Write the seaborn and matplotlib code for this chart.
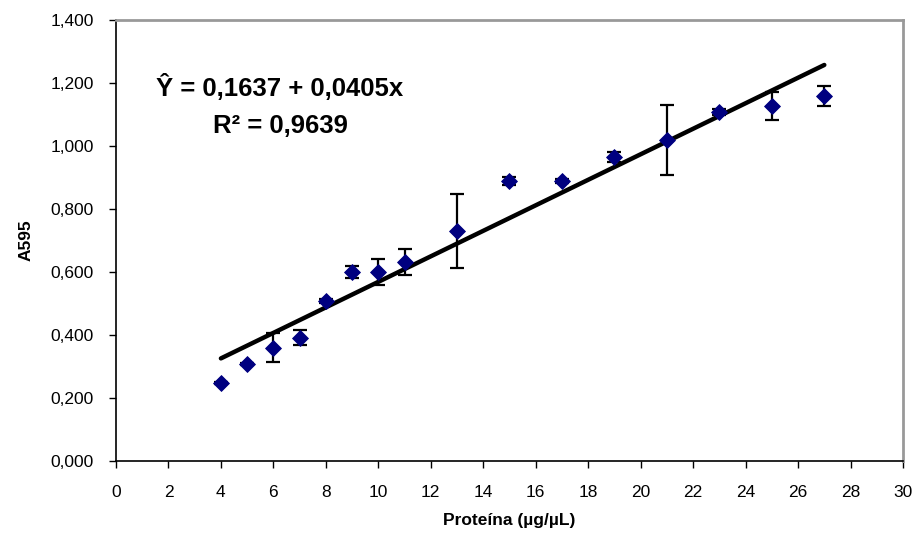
import numpy as np
import pandas as pd
import matplotlib
matplotlib.use("Agg")
import matplotlib.pyplot as plt
import seaborn as sns

# concentraciones (µg/µL) y absorbancias medias
proteina = [4, 5, 6, 7, 8, 9, 10, 11, 13, 15, 17, 19, 21, 23, 25, 27]
a595 = [0.248, 0.308, 0.359, 0.392, 0.509, 0.600, 0.600, 0.632, 0.730,
        0.889, 0.888, 0.964, 1.019, 1.108, 1.127, 1.159]
desv = [0.004, 0.004, 0.046, 0.024, 0.006, 0.019, 0.040, 0.040, 0.117,
        0.013, 0.006, 0.016, 0.111, 0.010, 0.043, 0.032]

intercepto = 0.1637
pendiente = 0.0405
r2 = 0.9639

df = pd.DataFrame({"x": proteina, "y": a595, "sd": desv})
df["fit"] = intercepto + pendiente * df["x"]

sns.set_style("white")
plt.rcParams["font.family"] = ["Liberation Sans", "DejaVu Sans"]
plt.rcParams["text.color"] = "black"
plt.rcParams["axes.labelcolor"] = "black"

fig = plt.figure(figsize=(9.19, 5.4), dpi=100)
ax = fig.add_axes([0.1262, 0.1463, 0.8564, 0.8167])

ax.errorbar(df["x"], df["y"], yerr=df["sd"], fmt="none", ecolor="black",
            elinewidth=1.6, capsize=5, capthick=1.6, zorder=2)
sns.lineplot(data=df, x="x", y="fit", color="black", linewidth=3.2, ax=ax, zorder=3)
sns.scatterplot(data=df, x="x", y="y", marker="D", s=65, color="#000080",
                edgecolor="#000080", ax=ax, zorder=4)

ax.set_xlim(0, 30)
ax.set_ylim(0, 1.4)
ax.set_xticks(np.arange(0, 31, 2))
ax.set_yticks(np.arange(0, 1.41, 0.2))
ax.set_yticklabels([f"{v:.3f}".replace(".", ",") for v in np.arange(0, 1.41, 0.2)])
ax.tick_params(axis="both", direction="out", length=5, width=1, colors="black",
               labelsize=12.5, left=True, bottom=True)
ax.tick_params(axis="x", pad=12)
ax.tick_params(axis="y", pad=11)

for s in ["left", "bottom"]:
    ax.spines[s].set_color("black")
    ax.spines[s].set_linewidth(1.2)
for s in ["top", "right"]:
    ax.spines[s].set_color("#999999")
    ax.spines[s].set_linewidth(2)

ax.set_xlabel("Proteína (µg/µL)", fontsize=12.5, fontweight="bold", labelpad=10)
ax.set_ylabel("A595", fontsize=12.5, fontweight="bold", labelpad=12)

eq = f"Ŷ = {intercepto:.4f} + {pendiente:.4f}x".replace(".", ",")
ax.text(6.25, 1.185, eq, fontsize=18.5, fontweight="bold", ha="center", va="center")
ax.text(6.25, 1.062, f"R² = {r2:.4f}".replace(".", ","), fontsize=18.5,
        fontweight="bold", ha="center", va="center")

fig.savefig("out.png", dpi=100)
